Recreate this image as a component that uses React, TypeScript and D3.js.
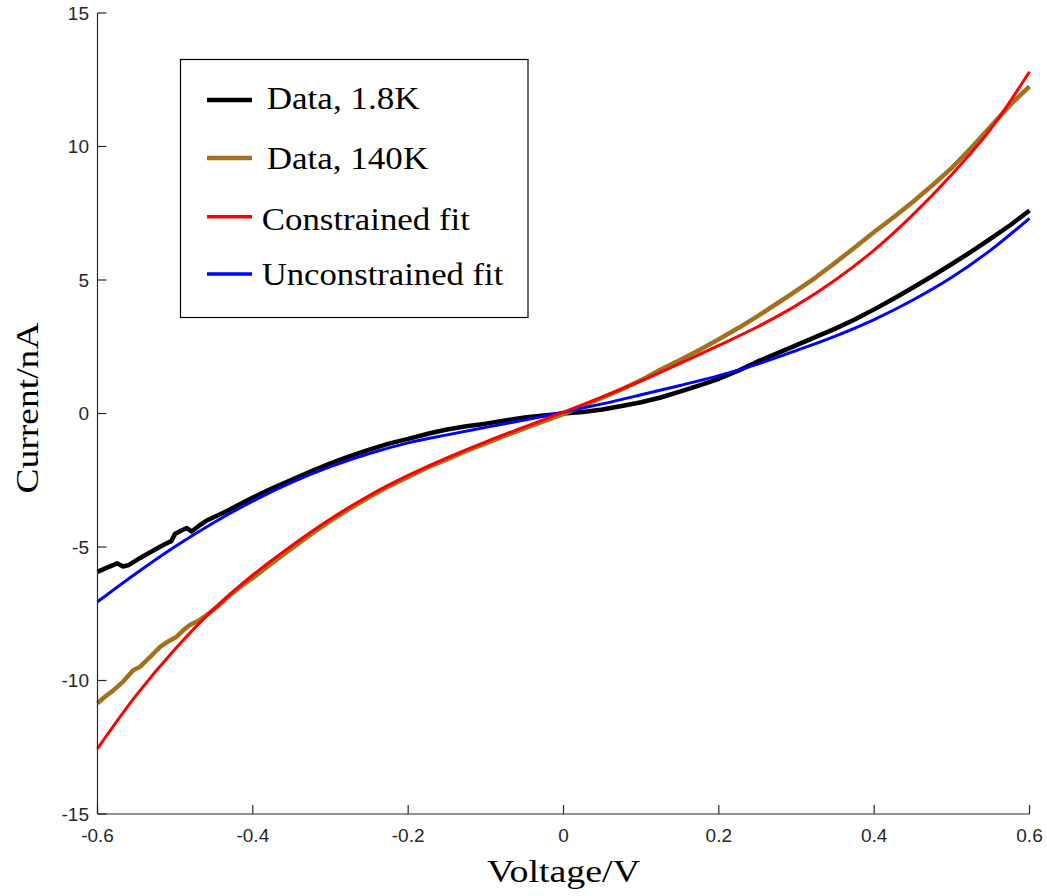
import React from "react";
import * as d3 from "d3";

const W = 1047;
const H = 896;

const xTicks = [-0.6, -0.4, -0.2, 0, 0.2, 0.4, 0.6];
const xTickLabels = ["-0.6", "-0.4", "-0.2", "0", "0.2", "0.4", "0.6"];
const yTicks = [-15, -10, -5, 0, 5, 10, 15];
const yTickLabels = ["-15", "-10", "-5", "0", "5", "10", "15"];

// Data, 1.8K (black)
const data18V = [-0.6, -0.59, -0.58, -0.575, -0.567, -0.56, -0.545, -0.532, -0.52, -0.511, -0.505, -0.5, -0.492, -0.485, -0.479, -0.47, -0.46, -0.438, -0.42, -0.4, -0.375, -0.35, -0.325, -0.3, -0.275, -0.25, -0.225, -0.2, -0.172, -0.15, -0.125, -0.1, -0.075, -0.05, -0.025, 0, 0.025, 0.05, 0.075, 0.1, 0.125, 0.15, 0.175, 0.2, 0.225, 0.25, 0.275, 0.3, 0.325, 0.35, 0.375, 0.4, 0.425, 0.45, 0.475, 0.5, 0.525, 0.55, 0.575, 0.6];
const data18I = [-5.93, -5.8, -5.68, -5.61, -5.73, -5.68, -5.41, -5.2, -5.0, -4.86, -4.78, -4.5, -4.38, -4.29, -4.42, -4.22, -4.02, -3.72, -3.45, -3.15, -2.8, -2.48, -2.17, -1.87, -1.6, -1.35, -1.13, -0.95, -0.74, -0.6, -0.48, -0.38, -0.26, -0.15, -0.07, 0.0, 0.06, 0.15, 0.28, 0.42, 0.6, 0.82, 1.05, 1.3, 1.6, 1.95, 2.25, 2.56, 2.87, 3.18, 3.52, 3.9, 4.3, 4.72, 5.15, 5.6, 6.06, 6.55, 7.05, 7.6];

// Data, 140K (brown)
const data140V = [-0.6, -0.59, -0.58, -0.567, -0.554, -0.545, -0.532, -0.519, -0.508, -0.498, -0.488, -0.481, -0.468, -0.456, -0.446, -0.43, -0.416, -0.4, -0.375, -0.35, -0.325, -0.3, -0.275, -0.25, -0.225, -0.2, -0.175, -0.15, -0.125, -0.1, -0.075, -0.05, -0.025, 0, 0.025, 0.05, 0.075, 0.1, 0.124, 0.15, 0.175, 0.2, 0.225, 0.25, 0.275, 0.3, 0.325, 0.35, 0.375, 0.4, 0.425, 0.45, 0.475, 0.5, 0.525, 0.55, 0.575, 0.6];
const data140I = [-10.85, -10.6, -10.38, -10.04, -9.62, -9.48, -9.11, -8.73, -8.52, -8.36, -8.08, -7.92, -7.73, -7.47, -7.24, -6.82, -6.49, -6.16, -5.6, -5.05, -4.52, -4.02, -3.56, -3.13, -2.73, -2.38, -2.02, -1.72, -1.4, -1.12, -0.83, -0.56, -0.29, -0.02, 0.28, 0.59, 0.91, 1.25, 1.63, 2.0, 2.38, 2.78, 3.2, 3.65, 4.12, 4.6, 5.1, 5.65, 6.22, 6.8, 7.35, 7.93, 8.55, 9.2, 9.95, 10.75, 11.55, 12.25];

// Constrained fit (red)
const fitConV = [-0.6, -0.55, -0.5, -0.45, -0.4, -0.35, -0.3, -0.25, -0.2, -0.15, -0.1, -0.05, 0, 0.05, 0.1, 0.15, 0.2, 0.25, 0.3, 0.35, 0.4, 0.45, 0.5, 0.55, 0.6];
const fitConI = [-12.55, -10.55, -8.82, -7.32, -6.05, -4.95, -3.95, -3.07, -2.32, -1.66, -1.06, -0.5, 0.05, 0.62, 1.22, 1.88, 2.55, 3.25, 4.05, 5.0, 6.12, 7.45, 8.95, 10.65, 12.8];

// Unconstrained fit (blue)
const fitUncV = [-0.6, -0.55, -0.5, -0.45, -0.4, -0.35, -0.3, -0.25, -0.2, -0.15, -0.1, -0.05, 0, 0.05, 0.1, 0.15, 0.2, 0.25, 0.3, 0.35, 0.4, 0.45, 0.5, 0.55, 0.6];
const fitUncI = [-7.05, -5.98, -4.98, -4.08, -3.28, -2.58, -1.99, -1.5, -1.1, -0.8, -0.52, -0.24, 0.05, 0.36, 0.7, 1.05, 1.42, 1.85, 2.36, 2.9, 3.52, 4.25, 5.1, 6.12, 7.31];

const legendLabels = ["Data, 1.8K", "Data, 140K", "Constrained fit", "Unconstrained fit"];

const BROWN = "#A2711C";
const AXIS = "#262626";

const series = [
  { v: data18V, i: data18I, color: "#000000", width: 4.5, smooth: false },
  { v: data140V, i: data140I, color: BROWN, width: 4.5, smooth: false },
  { v: fitUncV, i: fitUncI, color: "#0000FF", width: 3, smooth: true },
  { v: fitConV, i: fitConI, color: "#FF0000", width: 3, smooth: true },
];

export default function App() {
  const left = 97.5;
  const right = 1029.5;
  const top = 13;
  const bottom = 814;
  const x = d3.scaleLinear().domain([-0.6, 0.6]).range([left, right]);
  const y = d3.scaleLinear().domain([-15, 15]).range([bottom, top]);

  const mkLine = (smooth: boolean) =>
    d3
      .line<[number, number]>()
      .x((d) => x(d[0]))
      .y((d) => y(d[1]))
      .curve(smooth ? d3.curveCatmullRom.alpha(0.5) : d3.curveLinear);

  const legendItems = [
    { label: legendLabels[0], color: "#000000", width: 4.5, ly: 100, tx: 266.7, ty: 109.3, tl: 153 },
    { label: legendLabels[1], color: BROWN, width: 4.5, ly: 158, tx: 266.7, ty: 169, tl: 161.5 },
    { label: legendLabels[2], color: "#FF0000", width: 3.5, ly: 216.7, tx: 261.7, ty: 230, tl: 208.3 },
    { label: legendLabels[3], color: "#0000FF", width: 3.5, ly: 274, tx: 261.7, ty: 285, tl: 241.7 },
  ];

  const serif = "'Liberation Serif', 'Times New Roman', serif";
  const sans = "'Liberation Sans', Arial, Helvetica, sans-serif";

  return (
    <div style={{ position: "absolute", left: 0, top: 0 }}>
      <svg width={W} height={H} style={{ display: "block", background: "#fff" }}>
        <rect x={0} y={0} width={W} height={H} fill="#fff" />
        {/* series */}
        <g fill="none" strokeLinejoin="round" strokeLinecap="butt">
          {series.map((s, k) => (
            <path
              key={k}
              d={mkLine(s.smooth)(s.v.map((v, j) => [v, s.i[j]] as [number, number])) || ""}
              stroke={s.color}
              strokeWidth={s.width}
            />
          ))}
        </g>
        {/* axes */}
        <g stroke={AXIS} strokeWidth={1.2} fill="none">
          <line x1={left} y1={top} x2={left} y2={bottom} />
          <line x1={left} y1={bottom} x2={right} y2={bottom} />
          {yTicks.map((t) => (
            <line key={"yt" + t} x1={left} x2={left + 9} y1={y(t)} y2={y(t)} />
          ))}
          {xTicks.map((t) => (
            <line key={"xt" + t} x1={x(t)} x2={x(t)} y1={bottom} y2={bottom - 9} />
          ))}
        </g>
        <g fontFamily={sans} fontSize={19} fill={AXIS}>
          {yTicks.map((t, k) => (
            <text key={"yl" + t} x={left - 8.5} y={y(t)} dy="0.36em" textAnchor="end">
              {yTickLabels[k]}
            </text>
          ))}
          {xTicks.map((t, k) => (
            <text key={"xl" + t} x={x(t)} y={842} textAnchor="middle">
              {xTickLabels[k]}
            </text>
          ))}
        </g>
        {/* axis titles */}
        <text
          x={(left + right) / 2}
          y={882}
          textAnchor="middle"
          fontFamily={serif}
          fontSize={32}
          fill="#000"
          textLength={153}
          lengthAdjust="spacingAndGlyphs"
        >
          Voltage/V
        </text>
        <text
          transform={`translate(37.5,408) rotate(-90)`}
          textAnchor="middle"
          fontFamily={serif}
          fontSize={32}
          fill="#000"
          textLength={171}
          lengthAdjust="spacingAndGlyphs"
        >
          Current/nA
        </text>
        {/* legend */}
        <rect x={180.5} y={59.5} width={347.5} height={258} fill="#fff" stroke="#000" strokeWidth={1.2} />
        {legendItems.map((it, k) => (
          <g key={"lg" + k}>
            <line x1={207} x2={252} y1={it.ly} y2={it.ly} stroke={it.color} strokeWidth={it.width} />
            <text
              x={it.tx}
              y={it.ty}
              fontFamily={serif}
              fontSize={31}
              fill="#000"
              textLength={it.tl}
              lengthAdjust="spacingAndGlyphs"
            >
              {it.label}
            </text>
          </g>
        ))}
      </svg>
    </div>
  );
}
